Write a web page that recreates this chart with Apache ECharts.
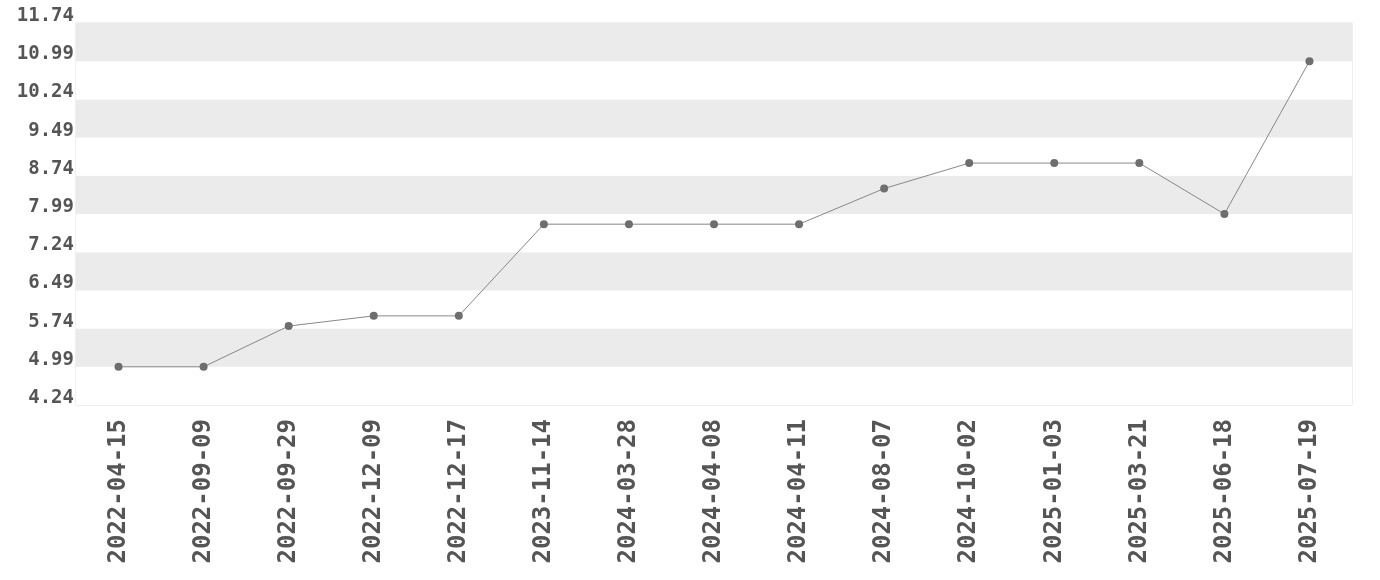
<!DOCTYPE html>
<html><head><meta charset="utf-8">
<script src="https://cdn.jsdelivr.net/npm/echarts@6/dist/echarts.min.js"></script>
<style>html,body{margin:0;padding:0;background:#fff}#c{width:1380px;height:580px}</style>
</head><body><div id="c"></div>
<script>
const categories = ['2022-04-15','2022-09-09','2022-09-29','2022-12-09','2022-12-17','2023-11-14','2024-03-28','2024-04-08','2024-04-11','2024-08-07','2024-10-02','2025-01-03','2025-03-21','2025-06-18','2025-07-19'];
const values = [4.99,4.99,5.79,5.99,5.99,7.79,7.79,7.79,7.79,8.49,8.99,8.99,8.99,7.99,10.99];
const yMin = 4.24, yMax = 11.74, yStep = 0.75;

const chart = echarts.init(document.getElementById('c'), null, {renderer:'canvas'});
chart.setOption({
  animation:false,
  grid:{left:76,right:28,top:23,bottom:175,show:true,borderColor:'#e0e0e0',borderWidth:1,backgroundColor:'transparent'},
  xAxis:{type:'category',data:categories,boundaryGap:true,
    axisLine:{show:false},axisTick:{show:false},splitLine:{show:false},
    axisLabel:{rotate:90,interval:0,margin:14,color:'#555',fontFamily:'DejaVu Sans Mono',fontWeight:'bold',fontSize:24}},
  yAxis:{type:'value',min:yMin,max:yMax,interval:yStep,
    axisLine:{show:false},axisTick:{show:false},splitLine:{show:false},
    splitArea:{show:true,areaStyle:{color:['#ffffff','#ebebeb']}},
    axisLabel:{margin:2,color:'#555',fontFamily:'DejaVu Sans Mono',fontWeight:'bold',fontSize:19,verticalAlign:'bottom',lineHeight:14,formatter:v=>v.toFixed(2)}},
  series:[{type:'line',data:values,symbol:'circle',symbolSize:8,
    lineStyle:{color:'#888',width:1},itemStyle:{color:'#6e6e6e'}}]
});
</script></body></html>
